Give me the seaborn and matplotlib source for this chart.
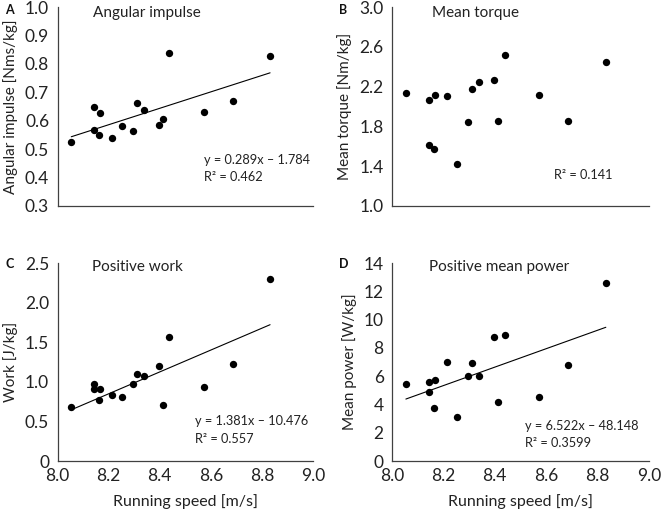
import numpy as np
import pandas as pd
import matplotlib
matplotlib.use("Agg")
import matplotlib.pyplot as plt
import seaborn as sns

# ---- data ----
speed = [8.054, 8.144, 8.144, 8.164, 8.168, 8.213, 8.251, 8.296, 8.311, 8.340,
         8.397, 8.413, 8.438, 8.572, 8.686, 8.832]
angular_impulse = [0.525, 0.647, 0.566, 0.551, 0.628, 0.540, 0.580, 0.563, 0.662, 0.638,
                   0.585, 0.607, 0.838, 0.629, 0.670, 0.828]
mean_torque = [2.137, 2.063, 1.610, 1.570, 2.117, 2.107, 1.420, 1.843, 2.180, 2.243,
               2.263, 1.857, 2.517, 2.120, 1.856, 2.448]
positive_work = [0.683, 0.975, 0.908, 0.775, 0.908, 0.833, 0.804, 0.975, 1.104, 1.067,
                 1.200, 0.708, 1.567, 0.929, 1.220, 2.300]
mean_power = [5.47, 5.58, 4.86, 3.77, 5.74, 7.00, 3.09, 6.02, 6.93, 6.02,
              8.77, 4.14, 8.91, 4.52, 6.82, 12.60]

# printed trend-line coefficients (None = no line drawn)
slopes = [0.289, None, 1.381, 6.522]
intercepts = [-1.784, None, -10.476, -48.148]

letters = ["A", "B", "C", "D"]
titles = ["Angular impulse", "Mean torque", "Positive work", "Positive mean power"]
ylabels = ["Angular impulse [Nms/kg]", "Mean torque [Nm/kg]", "Work [J/kg]", "Mean power [W/kg]"]
xlabel = "Running speed [m/s]"
equations = ["y = 0.289x \u2013 1.784\nR\u00b2 = 0.462", "R\u00b2 = 0.141",
             "y = 1.381x \u2013 10.476\nR\u00b2 = 0.557", "y = 6.522x \u2013 48.148\nR\u00b2 = 0.3599"]
yticks = [np.arange(0.3, 1.01, 0.1), np.arange(1.0, 3.01, 0.4),
          np.arange(0, 2.51, 0.5), np.arange(0, 14.1, 2)]
yticklabels = [["0.3", "0.4", "0.5", "0.6", "0.7", "0.8", "0.9", "1.0"],
               ["1.0", "1.4", "1.8", "2.2", "2.6", "3.0"],
               ["0", "0.5", "1.0", "1.5", "2.0", "2.5"],
               ["0", "2", "4", "6", "8", "10", "12", "14"]]
xticks = [8.0, 8.2, 8.4, 8.6, 8.8, 9.0]
xticklabels = ["8.0", "8.2", "8.4", "8.6", "8.8", "9.0"]

df = pd.DataFrame({"speed": speed, "ai": angular_impulse, "mt": mean_torque,
                   "pw": positive_work, "mp": mean_power})
cols = ["ai", "mt", "pw", "mp"]

sns.set_style("white")
plt.rcParams["font.family"] = ["Lato", "DejaVu Sans"]

fig = plt.figure(figsize=(6.61, 5.14), dpi=100)
W, H = 661, 514
boxes = [(57.5, 7, 313, 206), (392, 7, 649, 206), (57.5, 263, 313, 461), (392, 263, 649, 461)]
eq_pos = [(204, 168.5), (554, 175), (195, 430), (525, 434.5)]
title_pos = [(93, 13), (432, 13), (92, 267), (429, 267)]
letter_pos = [(5, 10), (339, 10), (5, 264), (339, 264)]

spine_c = "#404040"
text_c = "#222222"
xs = np.array([min(speed), max(speed)])
for i in range(4):
    l, t, r, b = boxes[i]
    ax = fig.add_axes([l / W, 1 - b / H, (r - l) / W, (b - t) / H])
    sns.scatterplot(data=df, x="speed", y=cols[i], ax=ax, color="black", s=28,
                    edgecolor="black", linewidth=0, zorder=3)
    if slopes[i] is not None:
        line_df = pd.DataFrame({"x": xs, "y": slopes[i] * xs + intercepts[i]})
        sns.lineplot(data=line_df, x="x", y="y", ax=ax, color="black", lw=0.8)
    ax.set_xlim(8.0, 9.0)
    ax.set_ylim(yticks[i][0], yticks[i][-1])
    ax.set_yticks(yticks[i])
    ax.set_yticklabels(yticklabels[i], fontsize=12.5)
    ax.set_ylabel(ylabels[i], fontsize=11, labelpad=5)
    ax.set_xticks(xticks)
    if i >= 2:
        ax.set_xticklabels(xticklabels, fontsize=12.5)
        ax.set_xlabel(xlabel, fontsize=11.5, labelpad=7)
    else:
        ax.set_xticklabels([])
        ax.set_xlabel("")
    for s in ["top", "right"]:
        ax.spines[s].set_visible(False)
    for s in ["left", "bottom"]:
        ax.spines[s].set_color(spine_c)
        ax.spines[s].set_linewidth(0.9)
    ax.tick_params(axis="both", direction="in", length=3.5, width=0.9, color=spine_c,
                   labelcolor=text_c, pad=6)
    ax.tick_params(axis="x", pad=5)
    ax.yaxis.label.set_color(text_c)
    ax.xaxis.label.set_color(text_c)
    tx, ty = title_pos[i]
    fig.text(tx / W, 1 - ty / H, titles[i], fontsize=11, va="center", ha="left", color=text_c)
    ex, ey = eq_pos[i]
    fig.text(ex / W, 1 - ey / H, equations[i], fontsize=9.2, va="center", ha="left",
             color=text_c, linespacing=1.55)
    lx, ly = letter_pos[i]
    fig.text(lx / W, 1 - ly / H, letters[i], fontsize=9, fontweight="bold", va="center",
             ha="left", color="#111111")

fig.savefig("out.png", dpi=100)
